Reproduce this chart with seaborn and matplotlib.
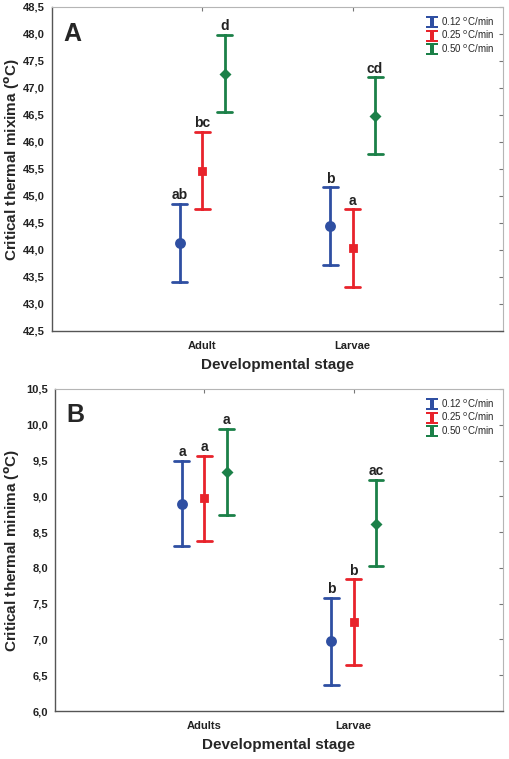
import numpy as np
import pandas as pd
import matplotlib
matplotlib.use("Agg")
import matplotlib.pyplot as plt
import seaborn as sns
from matplotlib.lines import Line2D
from matplotlib.path import Path
from matplotlib.ticker import FuncFormatter, MultipleLocator

# ---- data ----
rates = ["0.12", "0.25", "0.50"]
rate_colors = ["#2f4fa2", "#e8232b", "#1b8048"]
rate_markers = ["o", "s", "D"]

stages_max = ["Adult", "Larvae"]
ctmax_mean = {"Adult": [44.13, 45.47, 47.26], "Larvae": [44.44, 44.04, 46.48]}
ctmax_lo = {"Adult": [43.41, 44.76, 46.55], "Larvae": [43.72, 43.32, 45.77]}
ctmax_hi = {"Adult": [44.85, 46.19, 47.98], "Larvae": [45.16, 44.75, 47.20]}
ctmax_letters = {"Adult": ["ab", "bc", "d"], "Larvae": ["b", "a", "cd"]}

stages_min = ["Adults", "Larvae"]
ctmin_mean = {"Adults": [8.89, 8.97, 9.34], "Larvae": [6.98, 7.24, 8.61]}
ctmin_lo = {"Adults": [8.30, 8.37, 8.74], "Larvae": [6.37, 6.64, 8.02]}
ctmin_hi = {"Adults": [9.50, 9.57, 9.94], "Larvae": [7.58, 7.84, 9.23]}
ctmin_letters = {"Adults": ["a", "a", "a"], "Larvae": ["b", "b", "ac"]}

DODGE = 0.3


def long_table(stages, lo, mean, hi):
    # three rows per group: median = mean, 100% interval = lo..hi
    rows = []
    for st in stages:
        for i, r in enumerate(rates):
            for v in (lo[st][i], mean[st][i], hi[st][i]):
                rows.append({"stage": st, "rate": r, "value": v})
    return pd.DataFrame(rows)


def comma(v, pos):
    return f"{v:.1f}".replace(".", ",")


bold_font = ["Liberation Sans", "DejaVu Sans"]

ibeam = Path([(-1, 1), (1, 1), (1, 0.62), (0.3, 0.62), (0.3, -0.62), (1, -0.62),
              (1, -1), (-1, -1), (-1, -0.62), (-0.3, -0.62), (-0.3, 0.62),
              (-1, 0.62), (-1, 1)], closed=True)
marker_sizes = {"o": 5.8, "s": 5.0, "D": 3.8}


def draw_panel(ax, stages, lo, mean, hi, letters, ylim, ylabel, panel,
               letter_pad, ylabel_xy):
    df = long_table(stages, lo, mean, hi)
    sns.pointplot(data=df, x="stage", y="value", hue="rate", order=stages,
                  hue_order=rates, palette=rate_colors, markers=rate_markers,
                  linestyle="none", estimator="median", errorbar=("pi", 100),
                  dodge=DODGE, capsize=0.1, markersize=5,
                  err_kws={"linewidth": 2.0}, legend=False, ax=ax)
    # smaller diamonds, like the original
    for ln in ax.lines:
        m = ln.get_marker()
        if m in marker_sizes:
            ln.set_markersize(marker_sizes[m])

    step = DODGE / (len(rates) - 1)
    for ci, st in enumerate(stages):
        for i in range(len(rates)):
            ax.text(ci - DODGE / 2 + step * i, hi[st][i] + letter_pad, letters[st][i],
                    ha="center", va="bottom", fontsize=10, fontweight="bold",
                    family=bold_font, color="#222222")

    ax.set_xlim(-1, 2)
    ax.set_ylim(*ylim)
    ax.yaxis.set_major_locator(MultipleLocator(0.5))
    ax.yaxis.set_major_formatter(FuncFormatter(comma))
    ax.tick_params(direction="in", length=3, width=0.8, top=True, right=True,
                   colors="#777777", labelcolor="#222222")
    ax.tick_params(axis="x", pad=7)
    ax.tick_params(axis="y", pad=5)
    for lab in ax.get_yticklabels() + ax.get_xticklabels():
        lab.set_fontweight("bold")
        lab.set_fontsize(8)
    for side in ["left", "bottom"]:
        ax.spines[side].set_color("#555555")
        ax.spines[side].set_linewidth(1.0)
    for side in ["top", "right"]:
        ax.spines[side].set_color("#b5b5b5")
        ax.spines[side].set_linewidth(0.8)

    ax.set_xlabel("Developmental stage", fontsize=11, fontweight="heavy",
                  family=bold_font, labelpad=5)
    ax.set_ylabel(ylabel, fontsize=11, fontweight="heavy", family=bold_font)
    ax.yaxis.set_label_coords(*ylabel_xy)
    ax.text(0.025, 0.955, panel, transform=ax.transAxes, fontsize=18,
            fontweight="heavy", family=bold_font, ha="left", va="top")

    handles = [Line2D([], [], linestyle="none", marker=ibeam, markersize=8.5,
                      color=c, markeredgewidth=0) for c in rate_colors]
    labels = [f"{r} $^{{\\rm o}}$C/min" for r in rates]
    ax.legend(handles, labels, loc="upper right", bbox_to_anchor=(0.995, 0.995),
              frameon=False, fontsize=7, handlelength=1.0, handletextpad=0.4,
              labelspacing=0.1, borderaxespad=0.3)


sns.set_style("white")
plt.rcParams["font.family"] = ["Liberation Sans", "DejaVu Sans"]
plt.rcParams["mathtext.default"] = "regular"

fig = plt.figure(figsize=(5.10, 7.59), dpi=100)
ax_a = fig.add_axes([0.102, 0.5639, 0.884, 0.4269])
ax_b = fig.add_axes([0.108, 0.0632, 0.878, 0.4243])

draw_panel(ax_a, stages_max, ctmax_lo, ctmax_mean, ctmax_hi, ctmax_letters,
           (42.5, 48.5), r"Critical thermal mixima ($\mathbf{^{o}}$C)", "A", 0.03,
           (-0.066, 0.53))
draw_panel(ax_b, stages_min, ctmin_lo, ctmin_mean, ctmin_hi, ctmin_letters,
           (6.0, 10.5), r"Critical thermal minima ($\mathbf{^{o}}$C)", "B", 0.025,
           (-0.074, 0.5))

fig.savefig("out.png", dpi=100)
